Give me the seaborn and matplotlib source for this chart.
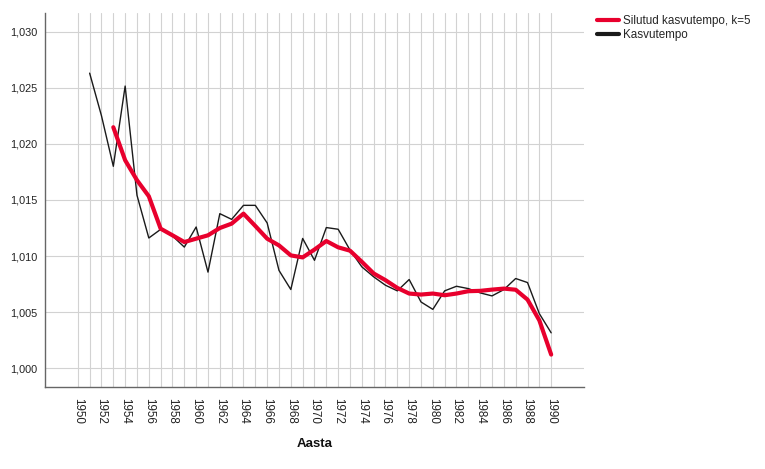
import numpy as np
import pandas as pd
import matplotlib
matplotlib.use("Agg")
import matplotlib.pyplot as plt
from matplotlib.ticker import FuncFormatter
import seaborn as sns

# ---- data ----
years_raw = list(range(1951, 1991))
growth = [1.02630, 1.02250, 1.01800, 1.02515, 1.01542, 1.01161, 1.01238, 1.01179,
          1.01080, 1.01259, 1.00857, 1.01378, 1.01327, 1.01452, 1.01452, 1.01295,
          1.00872, 1.00702, 1.01157, 1.00962, 1.01254, 1.01239, 1.01054, 1.00904,
          1.00815, 1.00740, 1.00690, 1.00791, 1.00591, 1.00525, 1.00690, 1.00731,
          1.00710, 1.00672, 1.00645, 1.00701, 1.00800, 1.00764, 1.00487, 1.00316]

years_smooth = list(range(1953, 1991))
smoothed = [1.02148, 1.01854, 1.01676, 1.01533, 1.01244, 1.01185, 1.01125, 1.01155,
            1.01185, 1.01250, 1.01289, 1.01378, 1.01268, 1.01155, 1.01095, 1.01006,
            1.00988, 1.01058, 1.01134, 1.01078, 1.01048, 1.00949, 1.00845, 1.00785,
            1.00716, 1.00666, 1.00657, 1.00666, 1.00651, 1.00666, 1.00687, 1.00690,
            1.00701, 1.00710, 1.00700, 1.00612, 1.00427, 1.00122]

label_smooth = "Silutud kasvutempo, k=5"
label_raw = "Kasvutempo"
x_label = "Aasta"
tick_years = list(range(1950, 1991))

df_raw = pd.DataFrame({"Aasta": years_raw, "value": growth})
df_smooth = pd.DataFrame({"Aasta": years_smooth, "value": smoothed})

sns.set_theme(style="white")
plt.rcParams["font.family"] = ["Liberation Sans", "DejaVu Sans"]

fig = plt.figure(figsize=(7.65, 4.69), dpi=100)
ax = fig.add_axes([0.0584, 0.1755, 0.7054, 0.7975])

sns.lineplot(data=df_raw, x="Aasta", y="value", ax=ax, color="#1a1a1a",
             linewidth=1.0, label=label_raw, zorder=3)
sns.lineplot(data=df_smooth, x="Aasta", y="value", ax=ax, color="#E8002D",
             linewidth=3.0, label=label_smooth, zorder=4)

ax.set_xlim(1947.2, 1992.8)
ax.set_ylim(0.99836, 1.03169)

ax.set_yticks([1.000, 1.005, 1.010, 1.015, 1.020, 1.025, 1.030])
ax.yaxis.set_major_formatter(FuncFormatter(lambda v, p: f"{v:.3f}".replace(".", ",")))
ax.set_xticks(tick_years)
ax.set_xticklabels([str(y) if y % 2 == 0 else "" for y in tick_years],
                   rotation=-90, fontsize=8.4, color="#222222")
ax.tick_params(axis="x", length=0, pad=8)
ax.tick_params(axis="y", length=0, pad=5, labelsize=7.8, labelcolor="#222222")

ax.grid(True, color="#d2d2d2", linewidth=0.8)
ax.set_axisbelow(True)
for s in ["top", "right"]:
    ax.spines[s].set_visible(False)
for s in ["left", "bottom"]:
    ax.spines[s].set_color("#666666")
    ax.spines[s].set_linewidth(1.0)

ax.set_ylabel("")
ax.set_xlabel(x_label, fontsize=9.5, fontweight="bold", color="#111111", labelpad=10)

handles, labels = ax.get_legend_handles_labels()
ax.get_legend().remove()
order = [labels.index(label_smooth), labels.index(label_raw)]
leg = fig.legend([handles[i] for i in order], [labels[i] for i in order],
                 loc="upper left", bbox_to_anchor=(597 / 765, 1 - 15 / 469),
                 frameon=False, fontsize=8.4, handlelength=1.9, handletextpad=0.3,
                 labelspacing=0.2, borderpad=0, borderaxespad=0)
for line in leg.get_lines():
    line.set_linewidth(3.0)

fig.savefig("out.png", dpi=100)
